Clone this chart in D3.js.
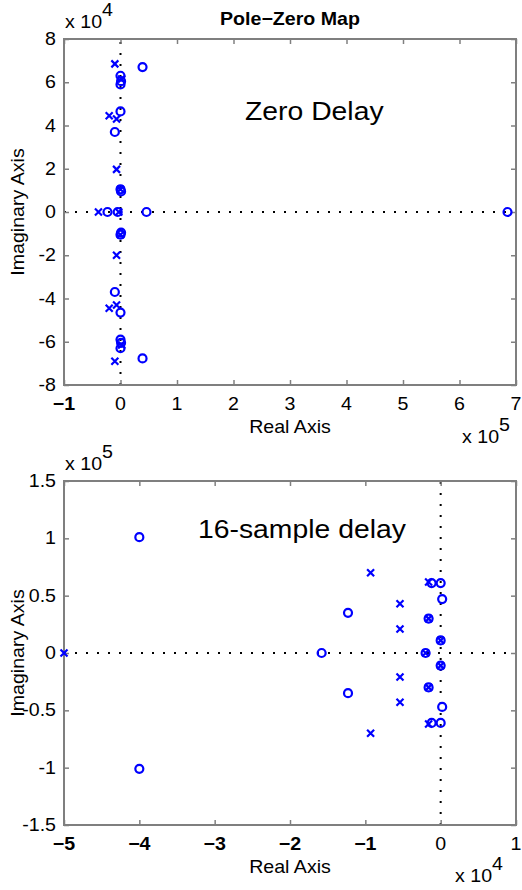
<!DOCTYPE html>
<html>
<head>
<meta charset="utf-8">
<script src="https://cdn.jsdelivr.net/npm/d3@7"></script>
<style>
  body { margin: 0; background: #fff; }
  text { font-family: "Liberation Sans", Arial, sans-serif; fill: #000; }
</style>
</head>
<body>
<div class="chart"></div>
<script>
// Zero delay: real part in units of 1e5, imaginary part in units of 1e4
var zeroDelayPolesRe = [-0.10, -0.10, 0.02, 0.02, -0.20, -0.20, -0.07, -0.07, -0.07, -0.07, 0.0, 0.0, -0.39, -0.03];
var zeroDelayPolesIm = [6.85, -6.9, 6.15, -6.15, 4.45, -4.45, 4.3, -4.3, 1.97, -2.0, 1.05, -1.05, 0, 0];
var zeroDelayZerosRe = [0.39, 0.39, 0.0, 0.0, 0.01, 0.01, 0.0, 0.0, 0.0, 0.0, -0.10, -0.10, 0.0, 0.0, 0.01, 0.01, -0.23, -0.05, 0.46, 6.85];
var zeroDelayZerosIm = [6.7, -6.77, 6.3, -6.3, 6.05, -6.05, 5.9, -5.9, 4.65, -4.65, 3.7, -3.7, 1.05, -1.05, 0.95, -0.95, 0, 0, 0, 0];

// 16-sample delay: real part in units of 1e4, imaginary part in units of 1e5
var delayPolesRe = [-5.0, -0.93, -0.93, -0.54, -0.54, -0.54, -0.54, -0.16, -0.16, -0.16, -0.16, 0.0, 0.0, -0.2];
var delayPolesIm = [0, 0.70, -0.70, 0.43, -0.43, 0.21, -0.21, 0.62, -0.62, 0.30, -0.30, 0.11, -0.11, 0];
var delayZerosRe = [-4.0, -4.0, -1.58, -1.23, -1.23, -0.16, -0.16, 0.0, 0.0, -0.2, 0.02, 0.02, -0.12, -0.12, 0.0, 0.0];
var delayZerosIm = [1.01, -1.01, 0, 0.35, -0.35, 0.30, -0.30, 0.11, -0.11, 0, 0.47, -0.47, 0.61, -0.61, 0.61, -0.61];

var topXTicks = [-1, 0, 1, 2, 3, 4, 5, 6, 7];
var topYTicks = [-8, -6, -4, -2, 0, 2, 4, 6, 8];
var botXTicks = [-5, -4, -3, -2, -1, 0, 1];
var botYTicks = [-1.5, -1, -0.5, 0, 0.5, 1, 1.5];

var svgWidth = 522;
var svgHeight = 890;
var blue = "#0000ff";
var stretch = 1.09; // the source text is a little wider than Arial

var svg = d3.select(".chart")
  .append("svg")
  .attr("width", svgWidth)
  .attr("height", svgHeight);

function zip(re, im) {
  return re.map(function (r, i) { return { re: r, im: im[i] }; });
}

// text placed through a group so it can be widened slightly
function label(parent, x, y, str, size, anchor, weight) {
  return parent.append("g")
    .attr("transform", "translate(" + x + "," + y + ") scale(" + stretch + ",1)")
    .append("text")
    .attr("text-anchor", anchor || "start")
    .attr("font-size", size)
    .attr("font-weight", weight || "normal")
    .text(str);
}

function drawPanel(opt) {
  var x = d3.scaleLinear().domain(opt.xDomain).range([64, 516]);
  var y = d3.scaleLinear().domain(opt.yDomain).range([opt.bottom, opt.top]);
  var g = svg.append("g");

  // dotted zero lines
  g.append("line")
    .attr("x1", x.range()[0]).attr("x2", x.range()[1])
    .attr("y1", y(0)).attr("y2", y(0))
    .attr("stroke", "#000").attr("stroke-width", 2)
    .attr("stroke-dasharray", "2,9");
  g.append("line")
    .attr("x1", x(0)).attr("x2", x(0))
    .attr("y1", y.range()[0]).attr("y2", y.range()[1])
    .attr("stroke", "#000").attr("stroke-width", 2)
    .attr("stroke-dasharray", "2,9");

  // axes, ticks inward on all four sides
  g.append("g")
    .attr("transform", "translate(0," + opt.bottom + ")")
    .call(d3.axisTop(x).tickValues(opt.xTicks).tickSize(5).tickFormat(""));
  g.append("g")
    .attr("transform", "translate(0," + opt.top + ")")
    .call(d3.axisBottom(x).tickValues(opt.xTicks).tickSize(5).tickFormat(""));
  g.append("g")
    .attr("transform", "translate(64,0)")
    .call(d3.axisRight(y).tickValues(opt.yTicks).tickSize(5).tickFormat(""));
  g.append("g")
    .attr("transform", "translate(516,0)")
    .call(d3.axisLeft(y).tickValues(opt.yTicks).tickSize(5).tickFormat(""));
  g.selectAll(".domain").remove();
  g.selectAll(".tick line").attr("stroke", "#808080").attr("stroke-width", 1.5);

  g.append("rect")
    .attr("x", 64).attr("y", opt.top)
    .attr("width", 452).attr("height", opt.bottom - opt.top)
    .attr("fill", "none").attr("stroke", "#7f7f7f").attr("stroke-width", 2);

  // tick labels
  opt.xTicks.forEach(function (d) {
    label(g, x(d), opt.bottom + 25, d < 0 ? "\u2212" + Math.abs(d) : String(d),
      18, "middle", d < 0 ? "bold" : "normal");
  });
  opt.yTicks.forEach(function (d) {
    label(g, 56, y(d) + 6, d < 0 ? "-" + Math.abs(d) : String(d), 18, "end");
  });

  // axis titles
  label(g, 290, opt.bottom + 48, "Real Axis", 18, "middle");
  g.append("text")
    .attr("transform", "translate(24," + (opt.top + opt.bottom) / 2 + ") rotate(-90) scale(" + stretch + ",1)")
    .attr("text-anchor", "middle").attr("font-size", 18)
    .text("Imaginary Axis");

  // exponent labels
  function expo(xp, yp, p) {
    label(g, xp, yp, "x 10", 18);
    label(g, xp + 37, yp - 12, p, 18);
  }
  expo(65, opt.top - 11, opt.yExp);
  expo(opt.xExpX, opt.bottom + opt.xExpDy, opt.xExp);

  // panel note
  label(g, opt.noteX, opt.noteY, opt.note, 26);

  // zeros (o)
  g.selectAll(".zero").data(zip(opt.zRe, opt.zIm)).enter().append("circle")
    .attr("cx", function (d) { return x(d.re); })
    .attr("cy", function (d) { return y(d.im); })
    .attr("r", 4)
    .attr("fill", "none").attr("stroke", blue).attr("stroke-width", 2.2);

  // poles (x)
  var s = 3.5;
  g.selectAll(".pole").data(zip(opt.pRe, opt.pIm)).enter().append("path")
    .attr("d", function (d) {
      var cx = x(d.re), cy = y(d.im);
      return "M" + (cx - s) + "," + (cy - s) + "L" + (cx + s) + "," + (cy + s) +
        "M" + (cx - s) + "," + (cy + s) + "L" + (cx + s) + "," + (cy - s);
    })
    .attr("stroke", blue).attr("stroke-width", 2.2).attr("fill", "none");
}

// title
label(svg, 290, 25, "Pole\u2212Zero Map", 18, "middle", "bold");

drawPanel({
  top: 39, bottom: 385,
  xDomain: [-1, 7], yDomain: [-8, 8],
  xTicks: topXTicks, yTicks: topYTicks,
  pRe: zeroDelayPolesRe, pIm: zeroDelayPolesIm,
  zRe: zeroDelayZerosRe, zIm: zeroDelayZerosIm,
  yExp: "4", xExp: "5", xExpX: 462, xExpDy: 58,
  note: "Zero Delay", noteX: 245, noteY: 120
});

drawPanel({
  top: 481, bottom: 825,
  xDomain: [-5, 1], yDomain: [-1.5, 1.5],
  xTicks: botXTicks, yTicks: botYTicks,
  pRe: delayPolesRe, pIm: delayPolesIm,
  zRe: delayZerosRe, zIm: delayZerosIm,
  yExp: "5", xExp: "4", xExpX: 455, xExpDy: 57,
  note: "16-sample delay", noteX: 198, noteY: 538
});
</script>
</body>
</html>
